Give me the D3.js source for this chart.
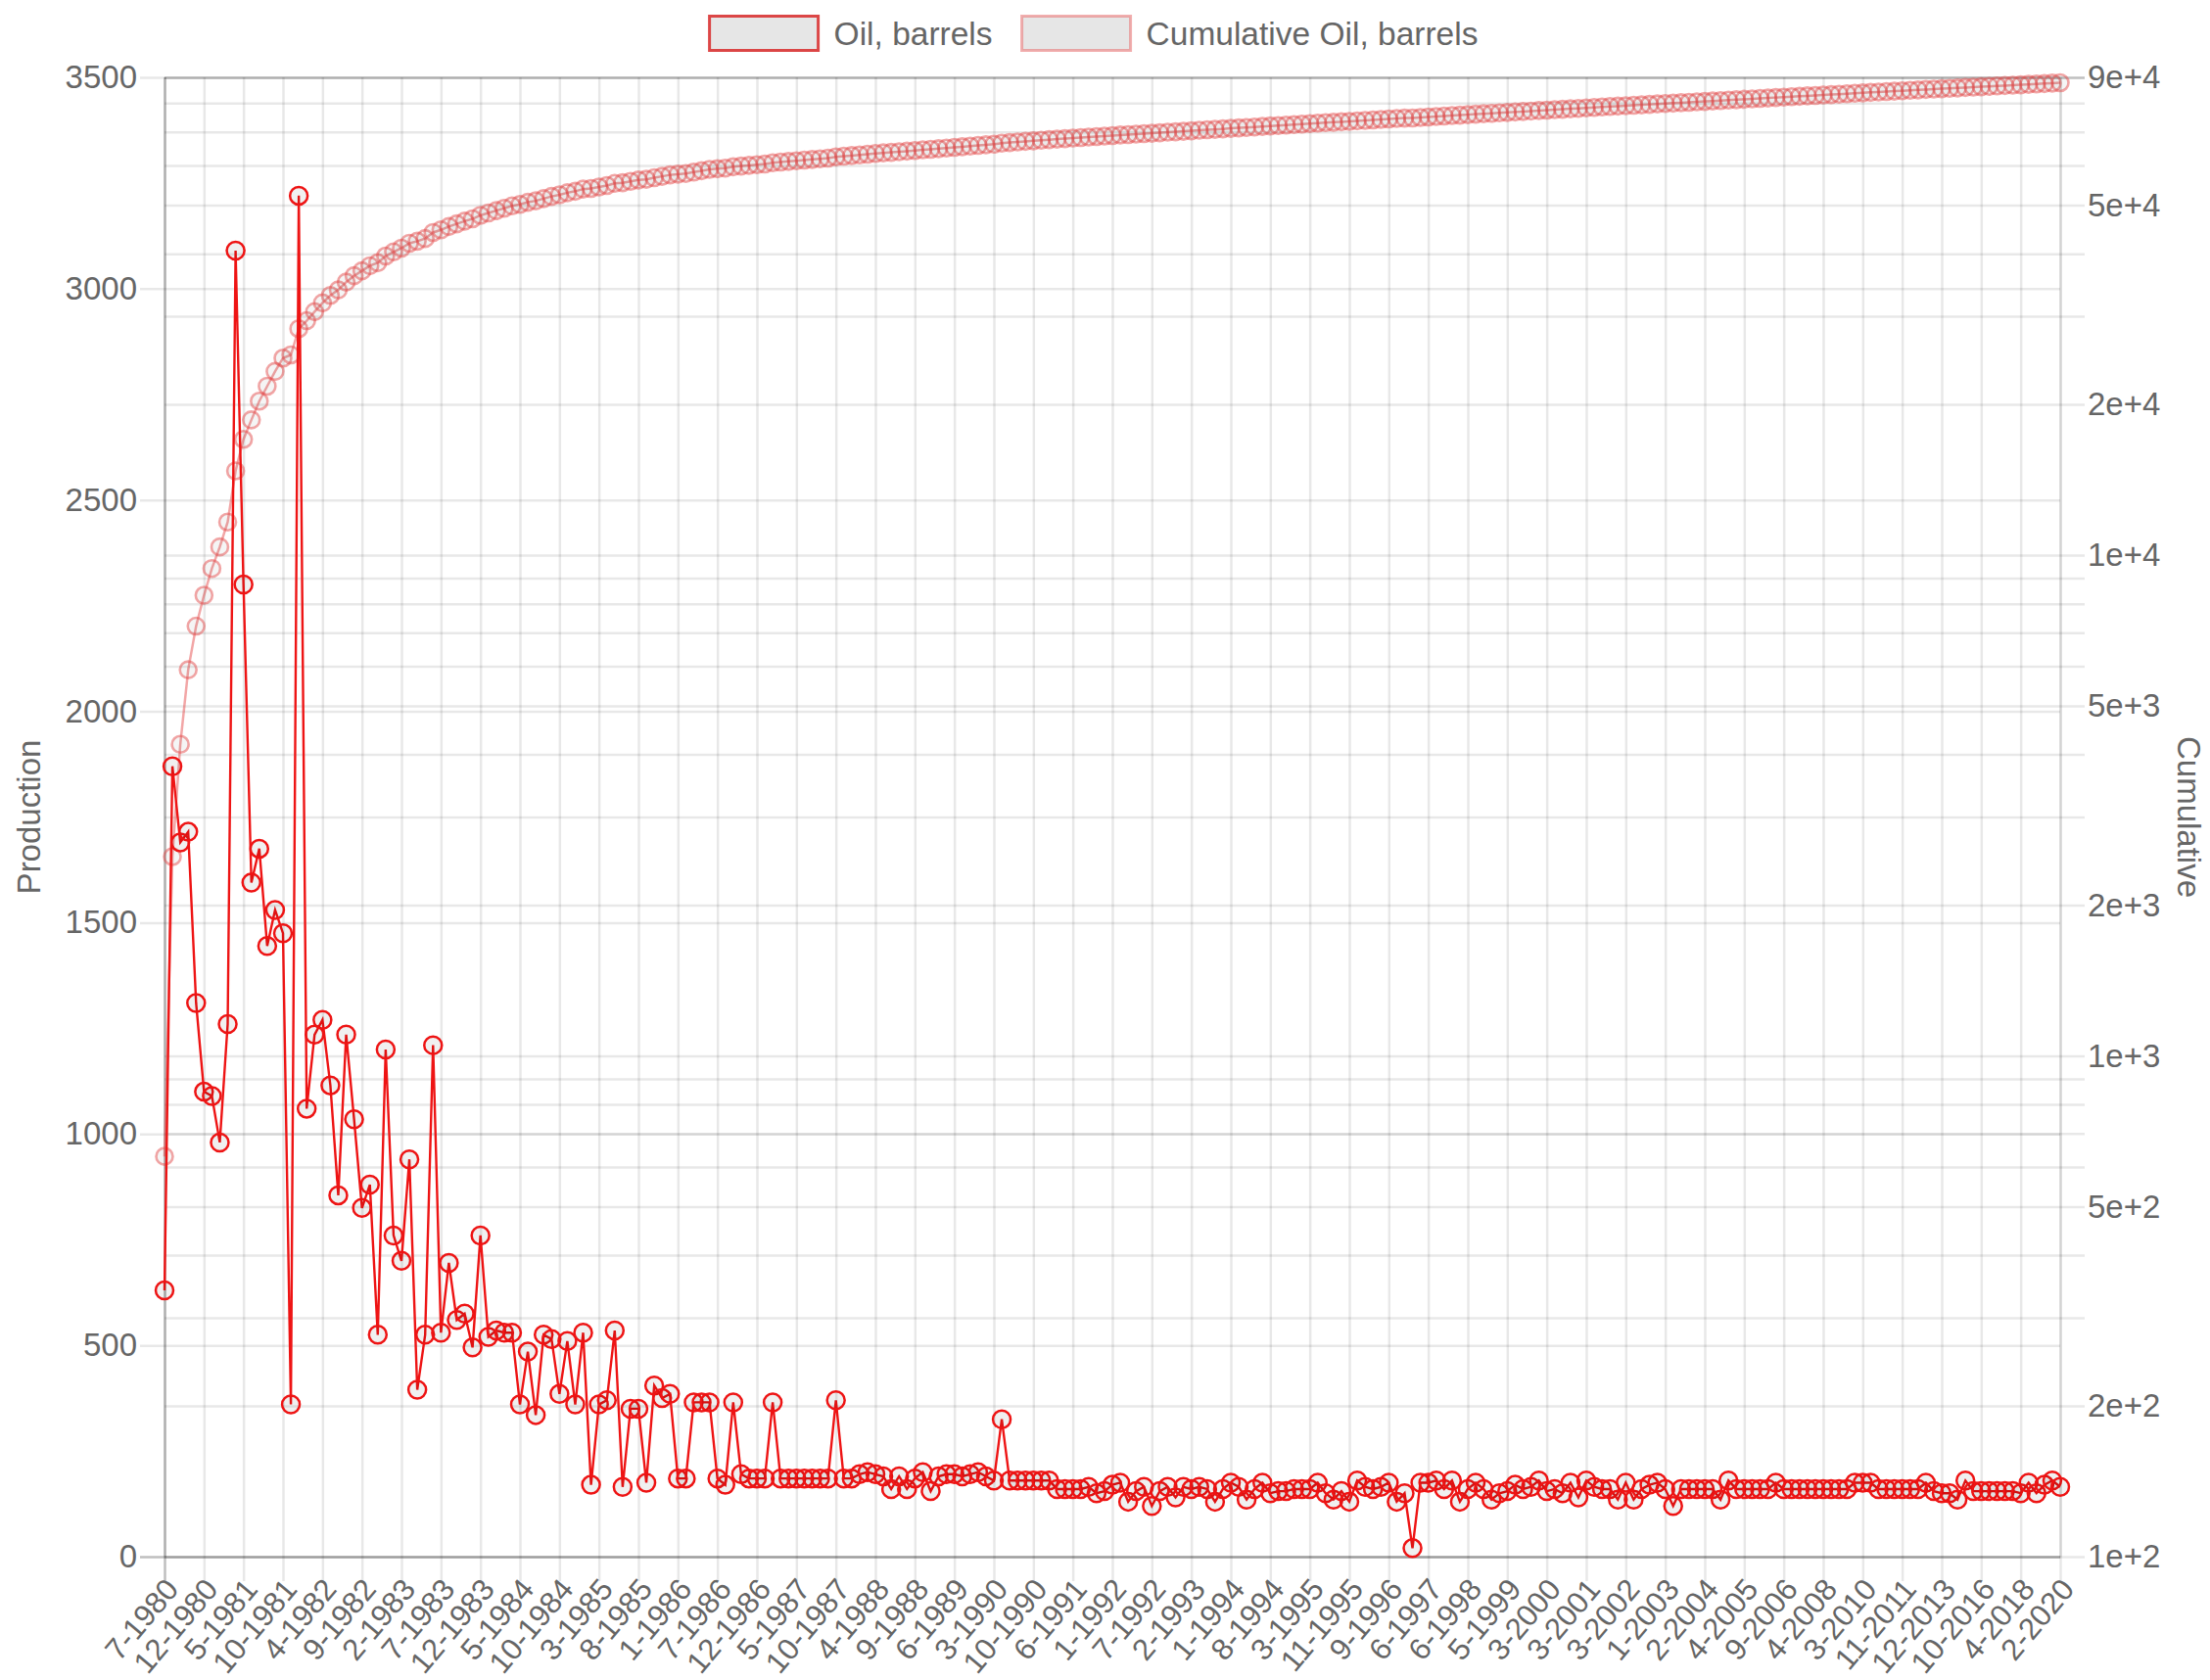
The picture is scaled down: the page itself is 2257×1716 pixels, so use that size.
<!DOCTYPE html>
<html><head><meta charset="utf-8">
<script src="https://cdn.jsdelivr.net/npm/d3@7"></script>
<style>
html,body{margin:0;padding:0;background:#fff;}
svg{display:block;}
</style>
</head><body>
<svg id="chart" width="2257" height="1716"></svg>
<script>
// ---------------- DATA ----------------
const categories = [
"7-1980","8-1980","9-1980","10-1980","11-1980",
"12-1980","1-1981","2-1981","3-1981","4-1981",
"5-1981","6-1981","7-1981","8-1981","9-1981",
"10-1981","11-1981","12-1981","2-1982","3-1982",
"4-1982","5-1982","6-1982","7-1982","8-1982",
"9-1982","10-1982","11-1982","12-1982","1-1983",
"2-1983","3-1983","4-1983","5-1983","6-1983",
"7-1983","8-1983","9-1983","10-1983","11-1983",
"12-1983","1-1984","2-1984","3-1984","4-1984",
"5-1984","6-1984","7-1984","8-1984","9-1984",
"10-1984","11-1984","12-1984","1-1985","2-1985",
"3-1985","4-1985","5-1985","6-1985","7-1985",
"8-1985","9-1985","10-1985","11-1985","12-1985",
"1-1986","2-1986","3-1986","4-1986","6-1986",
"7-1986","8-1986","9-1986","10-1986","11-1986",
"12-1986","1-1987","2-1987","3-1987","4-1987",
"5-1987","6-1987","7-1987","8-1987","9-1987",
"10-1987","11-1987","12-1987","2-1988","3-1988",
"4-1988","5-1988","6-1988","7-1988","8-1988",
"9-1988","11-1988","1-1989","3-1989","5-1989",
"6-1989","8-1989","10-1989","12-1989","2-1990",
"3-1990","5-1990","6-1990","8-1990","9-1990",
"10-1990","11-1990","1-1991","3-1991","4-1991",
"6-1991","7-1991","8-1991","10-1991","11-1991",
"1-1992","2-1992","3-1992","4-1992","6-1992",
"7-1992","8-1992","9-1992","11-1992","12-1992",
"2-1993","4-1993","6-1993","8-1993","10-1993",
"1-1994","2-1994","3-1994","5-1994","6-1994",
"8-1994","9-1994","10-1994","12-1994","1-1995",
"3-1995","4-1995","6-1995","7-1995","9-1995",
"11-1995","1-1996","3-1996","5-1996","7-1996",
"9-1996","11-1996","1-1997","3-1997","5-1997",
"6-1997","8-1997","10-1997","12-1997","3-1998",
"6-1998","8-1998","10-1998","12-1998","3-1999",
"5-1999","7-1999","9-1999","11-1999","1-2000",
"3-2000","5-2000","8-2000","10-2000","12-2000",
"3-2001","5-2001","8-2001","10-2001","12-2001",
"3-2002","5-2002","7-2002","9-2002","11-2002",
"1-2003","4-2003","6-2003","9-2003","11-2003",
"2-2004","5-2004","7-2004","10-2004","12-2004",
"4-2005","7-2005","10-2005","1-2006","5-2006",
"9-2006","1-2007","5-2007","9-2007","1-2008",
"4-2008","9-2008","2-2009","7-2009","11-2009",
"3-2010","7-2010","11-2010","3-2011","7-2011",
"11-2011","4-2012","9-2012","2-2013","7-2013",
"12-2013","7-2014","2-2015","9-2015","3-2016",
"10-2016","1-2017","5-2017","9-2017","1-2018",
"4-2018","8-2018","12-2018","4-2019","9-2019",
"2-2020"
];

// x tick labels that are shown (every 5th category)
const tickLabels = [
"7-1980","12-1980","5-1981","10-1981","4-1982","9-1982","2-1983","7-1983","12-1983",
"5-1984","10-1984","3-1985","8-1985","1-1986","7-1986","12-1986","5-1987","10-1987",
"4-1988","9-1988","6-1989","3-1990","10-1990","6-1991","1-1992","7-1992","2-1993",
"1-1994","8-1994","3-1995","11-1995","9-1996","6-1997","6-1998","5-1999","3-2000",
"3-2001","3-2002","1-2003","2-2004","4-2005","9-2006","4-2008","3-2010","11-2011",
"12-2013","10-2016","4-2018","2-2020"
];

// Oil, barrels (monthly production)
const oil = [
630,1870,1690,1715,1310,1100,1090,980,1260,3090,
2300,1595,1675,1445,1530,1475,360,3220,1060,1235,
1270,1115,855,1235,1035,825,880,525,1200,760,
700,940,395,525,1210,530,695,560,575,495,
760,520,535,530,530,360,485,335,525,515,
385,510,360,530,170,360,370,535,165,350,
350,175,405,375,385,185,185,365,365,365,
185,170,365,195,185,185,185,365,185,185,
185,185,185,185,185,370,185,185,195,200,
195,190,160,190,160,185,200,155,190,195,
195,190,195,200,190,180,325,180,180,180,
180,180,180,160,160,160,160,165,150,155,
170,175,130,155,165,120,155,165,140,165,
160,165,160,130,160,175,165,135,160,175,
150,155,155,160,160,160,175,150,135,155,
130,180,165,160,165,175,130,150,20,175,
175,180,160,180,130,160,175,160,135,150,
155,170,160,165,180,155,160,150,175,140,
180,165,160,160,135,175,135,160,170,175,
160,120,160,160,160,160,160,135,180,160,
160,160,160,160,175,160,160,160,160,160,
160,160,160,160,175,175,175,160,160,160,
160,160,160,175,155,150,150,135,180,155,
155,155,155,155,155,150,175,150,170,180,
165
];

// Cumulative Oil, barrels
const cumulative = [
630,2500,4190,5905,7215,8315,9405,10385,11645,14735,
17035,18630,20305,21750,23280,24755,25115,28335,29395,30630,
31900,33015,33870,35105,36140,36965,37845,38370,39570,40330,
41030,41970,42365,42890,44100,44630,45325,45885,46460,46955,
47715,48235,48770,49300,49830,50190,50675,51010,51535,52050,
52435,52945,53305,53835,54005,54365,54735,55270,55435,55785,
56135,56310,56715,57090,57475,57660,57845,58210,58575,58940,
59125,59295,59660,59855,60040,60225,60410,60775,60960,61145,
61330,61515,61700,61885,62070,62440,62625,62810,63005,63205,
63400,63590,63750,63940,64100,64285,64485,64640,64830,65025,
65220,65410,65605,65805,65995,66175,66500,66680,66860,67040,
67220,67400,67580,67740,67900,68060,68220,68385,68535,68690,
68860,69035,69165,69320,69485,69605,69760,69925,70065,70230,
70390,70555,70715,70845,71005,71180,71345,71480,71640,71815,
71965,72120,72275,72435,72595,72755,72930,73080,73215,73370,
73500,73680,73845,74005,74170,74345,74475,74625,74645,74820,
74995,75175,75335,75515,75645,75805,75980,76140,76275,76425,
76580,76750,76910,77075,77255,77410,77570,77720,77895,78035,
78215,78380,78540,78700,78835,79010,79145,79305,79475,79650,
79810,79930,80090,80250,80410,80570,80730,80865,81045,81205,
81365,81525,81685,81845,82020,82180,82340,82500,82660,82820,
82980,83140,83300,83460,83635,83810,83985,84145,84305,84465,
84625,84785,84945,85120,85275,85425,85575,85710,85890,86045,
86200,86355,86510,86665,86820,86970,87145,87295,87465,87645,
87810
];

const leftTicks = [0,500,1000,1500,2000,2500,3000,3500];
const rightTicks = [100,200,300,400,500,600,700,800,900,
  1000,2000,3000,4000,5000,6000,7000,8000,9000,
  10000,20000,30000,40000,50000,60000,70000,80000,90000];
const rightLabeled = [100,200,500,1000,2000,5000,10000,20000,50000,90000];
const seriesNames = ["Oil, barrels","Cumulative Oil, barrels"];
const axisTitles = ["Production","Cumulative"];

// ---------------- LAYOUT / STYLE ----------------
const W = 2257, H = 1716;
const L = 168, R = 2104, T = 79, B = 1590;
const FONT = 33, XFONT = 31;
const FAMILY = '"Liberation Sans", Arial, Helvetica, sans-serif';
const TEXT = "#666";
const GRID = "rgba(0,0,0,0.09)";
const ZERO = "rgba(0,0,0,0.25)";
const GW = 2.5;
const oilColor = "rgb(238,20,20)";
const cumColor = "rgba(228,70,70,0.48)";

const svg = d3.select("#chart");
svg.append("rect").attr("width", W).attr("height", H).attr("fill", "#fff");

const x = d3.scalePoint().domain(categories).range([L, R]);
const yL = d3.scaleLinear().domain([0, 3500]).range([B, T]);
const yR = d3.scaleLog().domain([100, 90000]).range([B, T]);

function styleAxis(g, size) {
  g.attr("font-size", size).attr("font-family", FAMILY);
  g.selectAll(".tick text").attr("fill", TEXT);
  g.select(".domain").attr("stroke", GRID).attr("stroke-width", GW);
}

// left axis + horizontal grid
const gl = svg.append("g").attr("transform", `translate(${L},0)`)
  .call(d3.axisLeft(yL).tickValues(leftTicks).tickFormat(d3.format("d"))
    .tickSizeInner(-(R - L)).tickSizeOuter(0).tickPadding(28));
styleAxis(gl, FONT);
gl.selectAll(".tick line").attr("x1", -25)
  .attr("stroke", d => d === 0 ? ZERO : GRID).attr("stroke-width", GW);

// right log axis + horizontal grid
const fmt = d3.format(".0e");
const gr = svg.append("g").attr("transform", `translate(${R},0)`)
  .call(d3.axisRight(yR).tickValues(rightTicks)
    .tickFormat(d => rightLabeled.includes(d) ? fmt(d) : "")
    .tickSizeInner(-(R - L)).tickSizeOuter(0).tickPadding(28));
styleAxis(gr, FONT);
gr.selectAll(".tick line").attr("x1", 25)
  .attr("stroke", d => d === 90000 ? ZERO : GRID).attr("stroke-width", GW);

// bottom category axis + vertical grid
const gx = svg.append("g").attr("transform", `translate(0,${B})`)
  .call(d3.axisBottom(x).tickValues(tickLabels).tickSizeInner(-(B - T)).tickSizeOuter(0).tickPadding(0));
styleAxis(gx, XFONT);
gx.selectAll(".tick line").attr("y1", 25)
  .attr("stroke", (d, i) => i === 0 ? ZERO : GRID).attr("stroke-width", GW);
gx.selectAll(".tick text")
  .attr("x", 0).attr("y", 0).attr("dy", "0.35em")
  .attr("text-anchor", "end")
  .attr("transform", "translate(7,27) rotate(-50)");

// axis titles
svg.append("text").text(axisTitles[0])
  .attr("transform", `translate(29,${(T + B) / 2}) rotate(-90)`)
  .attr("text-anchor", "middle").attr("dominant-baseline", "central")
  .attr("font-size", FONT).attr("font-family", FAMILY).attr("fill", TEXT);
svg.append("text").text(axisTitles[1])
  .attr("transform", `translate(2235,${(T + B) / 2}) rotate(90)`)
  .attr("text-anchor", "middle").attr("dominant-baseline", "central")
  .attr("font-size", FONT).attr("font-family", FAMILY).attr("fill", TEXT);

// ---------------- SERIES ----------------
const oilData = oil.map((v, i) => ({ c: categories[i], v }));
const cumData = cumulative.map((v, i) => ({ c: categories[i], v }));

const lineCum = d3.line().x(d => x(d.c)).y(d => yR(d.v));
const lineOil = d3.line().x(d => x(d.c)).y(d => yL(d.v));

// cumulative drawn first (Chart.js draws later datasets underneath)
svg.append("path").datum(cumData).attr("d", lineCum)
  .attr("fill", "none").attr("stroke", cumColor).attr("stroke-width", 2.5);
svg.append("g").selectAll("circle").data(cumData).join("circle")
  .attr("cx", d => x(d.c)).attr("cy", d => yR(d.v)).attr("r", 8.5)
  .attr("fill", "rgba(0,0,0,0.04)").attr("stroke", cumColor).attr("stroke-width", 2.6);

svg.append("path").datum(oilData).attr("d", lineOil)
  .attr("fill", "none").attr("stroke", oilColor).attr("stroke-width", 2.4);
svg.append("g").selectAll("circle").data(oilData).join("circle")
  .attr("cx", d => x(d.c)).attr("cy", d => yL(d.v)).attr("r", 9)
  .attr("fill", "rgba(0,0,0,0.06)").attr("stroke", oilColor).attr("stroke-width", 2.5);

// ---------------- LEGEND ----------------
const legendItems = [
  { name: seriesNames[0], stroke: "rgba(215,40,40,0.85)" },
  { name: seriesNames[1], stroke: "rgba(232,110,110,0.55)" }
];
const boxW = 111, boxH = 35, boxGap = 16, itemGap = 30, legendCY = 34;
const lg = svg.append("g");
const items = lg.selectAll("g").data(legendItems).join("g");
items.append("rect").attr("width", boxW).attr("height", boxH)
  .attr("y", legendCY - boxH / 2)
  .attr("fill", "#e6e6e6").attr("stroke", d => d.stroke).attr("stroke-width", 3);
items.append("text").text(d => d.name)
  .attr("x", boxW + boxGap).attr("y", legendCY).attr("dominant-baseline", "central")
  .attr("font-size", FONT + 0.5).attr("font-family", FAMILY).attr("fill", TEXT);
let widths = [];
items.each(function () { widths.push(boxW + boxGap + d3.select(this).select("text").node().getComputedTextLength()); });
const total = d3.sum(widths) + itemGap * (widths.length - 1);
let cx = 1117 - total / 2;
items.attr("transform", (d, i) => { const t = `translate(${cx},0)`; cx += widths[i] + itemGap; return t; });
</script>
</body></html>
